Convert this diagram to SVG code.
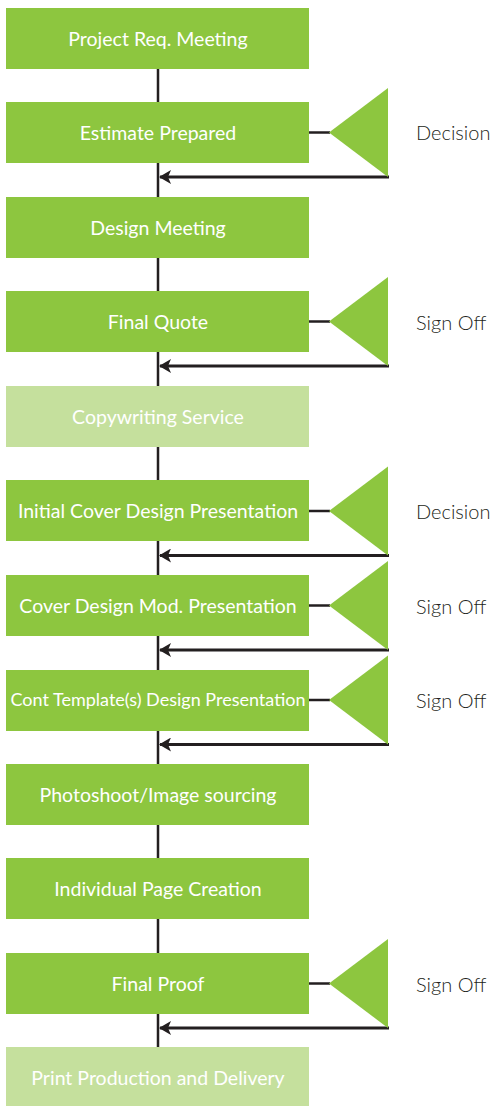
<svg xmlns="http://www.w3.org/2000/svg" width="493" height="1106" viewBox="0 0 493 1106">
  <style>
    .box { fill: #8dc63f; }
    .box.light { fill: #c5e09d; }
    .lbl { font-family: Lato, "Open Sans", sans-serif; font-size: 19.5px; fill: #ffffff; text-anchor: middle; }
    .lbl.small { font-size: 18px; }
    .side { font-family: Lato, "Open Sans", sans-serif; font-size: 20px; font-weight: 300; fill: #231f20; }
    .tri { fill: #8dc63f; }
    .wire { stroke: #231f20; stroke-width: 2.5; fill: none; }
    .ret { stroke: #231f20; stroke-width: 3; fill: none; }
  </style>
  <defs>
    <marker id="head" viewBox="0 0 12 14" refX="11" refY="7" markerWidth="12" markerHeight="14" markerUnits="userSpaceOnUse" orient="auto">
      <path d="M0,0 L12,7 L0,14 L3,7 Z" fill="#231f20"/>
    </marker>
  </defs>

  <!-- main spine and feedback loops -->
  <g id="connectors">
    <line class="wire" x1="158" y1="69" x2="158" y2="1048"/>
    <!-- box to decision links -->
    <line class="wire" x1="309" y1="132.5" x2="330" y2="132.5"/>
    <line class="wire" x1="309" y1="321.5" x2="330" y2="321.5"/>
    <line class="wire" x1="309" y1="511" x2="330" y2="511"/>
    <line class="wire" x1="309" y1="605.5" x2="330" y2="605.5"/>
    <line class="wire" x1="309" y1="700" x2="330" y2="700"/>
    <line class="wire" x1="309" y1="983.5" x2="330" y2="983.5"/>
    <!-- returns to the spine -->
    <line class="ret" x1="389" y1="177" x2="160" y2="177" marker-end="url(#head)"/>
    <line class="ret" x1="389" y1="366" x2="160" y2="366" marker-end="url(#head)"/>
    <line class="ret" x1="389" y1="555.5" x2="160" y2="555.5" marker-end="url(#head)"/>
    <line class="ret" x1="389" y1="650" x2="160" y2="650" marker-end="url(#head)"/>
    <line class="ret" x1="389" y1="744.5" x2="160" y2="744.5" marker-end="url(#head)"/>
    <line class="ret" x1="389" y1="1028" x2="160" y2="1028" marker-end="url(#head)"/>
  </g>

  <g id="n1"><rect class="box" x="6" y="8" width="303" height="61"/><text class="lbl" x="158" y="46">Project Req. Meeting</text></g>
  <g id="n2"><rect class="box" x="6" y="102" width="303" height="61"/><text class="lbl" x="158" y="140">Estimate Prepared</text></g>
  <g id="n3"><rect class="box" x="6" y="197" width="303" height="61"/><text class="lbl" x="158" y="235">Design Meeting</text></g>
  <g id="n4"><rect class="box" x="6" y="291" width="303" height="61"/><text class="lbl" x="158" y="329">Final Quote</text></g>
  <g id="n5"><rect class="box light" x="6" y="386" width="303" height="61"/><text class="lbl" x="158" y="424">Copywriting Service</text></g>
  <g id="n6"><rect class="box" x="6" y="480" width="303" height="61"/><text class="lbl" x="158" y="518">Initial Cover Design Presentation</text></g>
  <g id="n7"><rect class="box" x="6" y="575" width="303" height="61"/><text class="lbl" x="158" y="613">Cover Design Mod. Presentation</text></g>
  <g id="n8"><rect class="box" x="6" y="670" width="303" height="61"/><text class="lbl small" x="158" y="706">Cont Template(s) Design Presentation</text></g>
  <g id="n9"><rect class="box" x="6" y="764" width="303" height="61"/><text class="lbl" x="158" y="802">Photoshoot/Image sourcing</text></g>
  <g id="n10"><rect class="box" x="6" y="858" width="303" height="61"/><text class="lbl" x="158" y="896">Individual Page Creation</text></g>
  <g id="n11"><rect class="box" x="6" y="953" width="303" height="61"/><text class="lbl" x="158" y="991">Final Proof</text></g>
  <g id="n12"><rect class="box light" x="6" y="1047" width="303" height="61"/><text class="lbl" x="158" y="1085">Print Production and Delivery</text></g>

  <g id="d1"><polygon class="tri" points="329,132.5 388,88 388,177"/><text class="side" x="416" y="140">Decision</text></g>
  <g id="d2"><polygon class="tri" points="329,321.5 388,277 388,366"/><text class="side" x="416" y="330">Sign Off</text></g>
  <g id="d3"><polygon class="tri" points="329,511 388,466.5 388,555.5"/><text class="side" x="416" y="519">Decision</text></g>
  <g id="d4"><polygon class="tri" points="329,605.5 388,561 388,650"/><text class="side" x="416" y="614">Sign Off</text></g>
  <g id="d5"><polygon class="tri" points="329,700 388,655.5 388,744.5"/><text class="side" x="416" y="708">Sign Off</text></g>
  <g id="d6"><polygon class="tri" points="329,983.5 388,939 388,1028"/><text class="side" x="416" y="992">Sign Off</text></g>
</svg>
